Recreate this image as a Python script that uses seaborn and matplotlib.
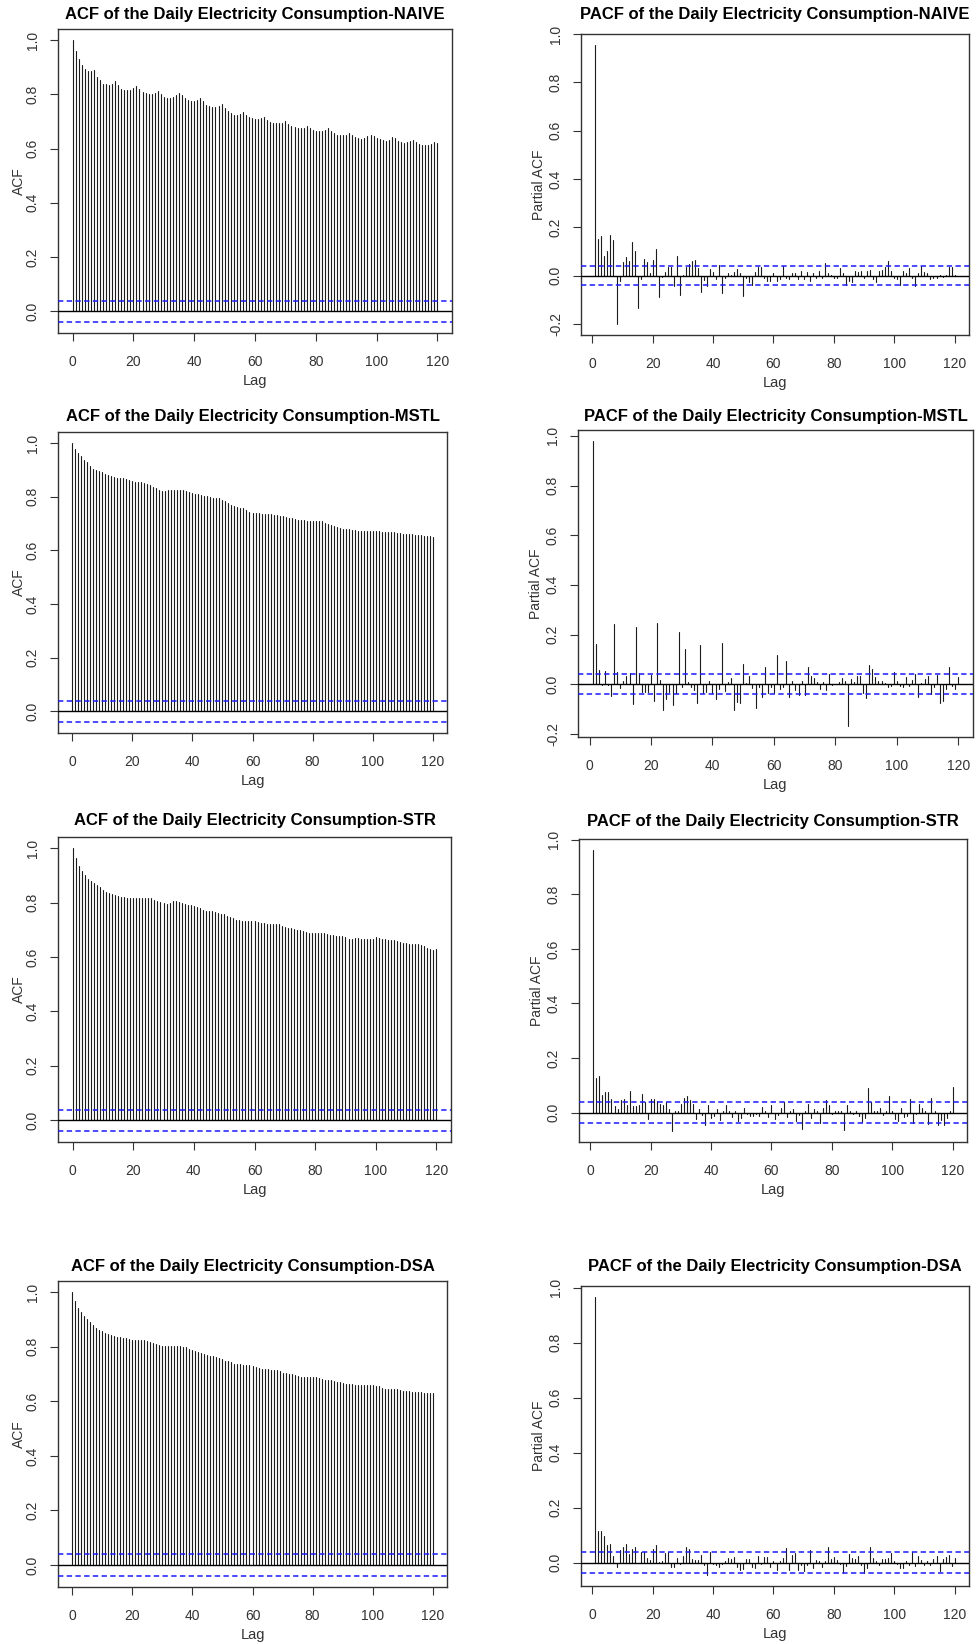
import numpy as np
import pandas as pd
import matplotlib
matplotlib.use("Agg")
import matplotlib.pyplot as plt
import seaborn as sns

# ---------------------------------------------------------------- data
ACF_NAIVE = [
    1.000, 0.959, 0.929, 0.910, 0.895, 0.887, 0.885, 0.889, 0.866, 0.852,
    0.840, 0.837, 0.836, 0.840, 0.849, 0.836, 0.821, 0.818, 0.816, 0.816,
    0.824, 0.833, 0.819, 0.808, 0.804, 0.803, 0.803, 0.804, 0.812, 0.800,
    0.792, 0.788, 0.787, 0.789, 0.797, 0.807, 0.797, 0.787, 0.780, 0.777,
    0.776, 0.778, 0.786, 0.775, 0.760, 0.756, 0.754, 0.754, 0.757, 0.764,
    0.751, 0.739, 0.730, 0.725, 0.725, 0.728, 0.734, 0.725, 0.717, 0.712,
    0.709, 0.709, 0.712, 0.717, 0.707, 0.698, 0.695, 0.693, 0.693, 0.696,
    0.702, 0.692, 0.682, 0.679, 0.675, 0.675, 0.677, 0.683, 0.677, 0.669,
    0.665, 0.665, 0.665, 0.670, 0.676, 0.666, 0.656, 0.651, 0.649, 0.649,
    0.651, 0.658, 0.651, 0.643, 0.638, 0.637, 0.639, 0.645, 0.651, 0.647,
    0.640, 0.637, 0.632, 0.629, 0.633, 0.643, 0.639, 0.629, 0.623, 0.622,
    0.623, 0.627, 0.632, 0.626, 0.618, 0.615, 0.612, 0.612, 0.618, 0.624,
    0.622,
]

ACF_MSTL = [
    1.000, 0.978, 0.965, 0.953, 0.938, 0.928, 0.916, 0.903, 0.901, 0.897,
    0.891, 0.886, 0.882, 0.876, 0.872, 0.869, 0.869, 0.869, 0.866, 0.861,
    0.859, 0.856, 0.855, 0.855, 0.853, 0.849, 0.844, 0.836, 0.831, 0.827,
    0.822, 0.820, 0.824, 0.827, 0.827, 0.827, 0.827, 0.824, 0.820, 0.818,
    0.815, 0.812, 0.809, 0.807, 0.804, 0.802, 0.799, 0.797, 0.796, 0.794,
    0.789, 0.783, 0.777, 0.770, 0.765, 0.761, 0.760, 0.757, 0.750, 0.742,
    0.740, 0.740, 0.739, 0.737, 0.737, 0.736, 0.735, 0.734, 0.732, 0.730,
    0.727, 0.725, 0.722, 0.720, 0.717, 0.715, 0.714, 0.713, 0.711, 0.710,
    0.709, 0.709, 0.709, 0.708, 0.703, 0.698, 0.694, 0.690, 0.686, 0.683,
    0.680, 0.679, 0.679, 0.678, 0.675, 0.674, 0.673, 0.673, 0.673, 0.673,
    0.673, 0.672, 0.672, 0.670, 0.670, 0.669, 0.669, 0.667, 0.664, 0.664,
    0.663, 0.663, 0.662, 0.660, 0.659, 0.658, 0.656, 0.654, 0.653, 0.652,
    0.649,
]

ACF_STR = [
    1.000, 0.964, 0.936, 0.918, 0.900, 0.888, 0.878, 0.871, 0.864, 0.856,
    0.848, 0.840, 0.835, 0.832, 0.829, 0.826, 0.822, 0.819, 0.818, 0.818,
    0.817, 0.816, 0.816, 0.816, 0.816, 0.816, 0.816, 0.811, 0.806, 0.801,
    0.797, 0.796, 0.800, 0.805, 0.805, 0.803, 0.800, 0.795, 0.792, 0.791,
    0.789, 0.784, 0.779, 0.774, 0.771, 0.770, 0.769, 0.767, 0.763, 0.760,
    0.757, 0.752, 0.748, 0.743, 0.738, 0.735, 0.733, 0.733, 0.733, 0.733,
    0.732, 0.730, 0.726, 0.724, 0.722, 0.722, 0.722, 0.722, 0.720, 0.714,
    0.709, 0.706, 0.705, 0.704, 0.701, 0.698, 0.694, 0.692, 0.690, 0.690,
    0.690, 0.690, 0.689, 0.687, 0.684, 0.682, 0.681, 0.679, 0.677, 0.676,
    0.672, 0.665, 0.667, 0.671, 0.670, 0.667, 0.666, 0.666, 0.666, 0.668,
    0.673, 0.671, 0.668, 0.666, 0.663, 0.662, 0.663, 0.660, 0.656, 0.652,
    0.650, 0.649, 0.647, 0.649, 0.647, 0.643, 0.639, 0.635, 0.630, 0.627,
    0.630,
]

ACF_DSA = [
    1.000, 0.969, 0.944, 0.927, 0.913, 0.902, 0.890, 0.880, 0.870, 0.863,
    0.857, 0.852, 0.848, 0.845, 0.841, 0.838, 0.836, 0.834, 0.831, 0.829,
    0.827, 0.826, 0.826, 0.825, 0.824, 0.821, 0.819, 0.816, 0.812, 0.807,
    0.804, 0.804, 0.804, 0.804, 0.804, 0.803, 0.802, 0.801, 0.798, 0.794,
    0.789, 0.785, 0.781, 0.777, 0.774, 0.770, 0.767, 0.766, 0.764, 0.760,
    0.755, 0.750, 0.747, 0.743, 0.739, 0.737, 0.736, 0.734, 0.733, 0.732,
    0.730, 0.726, 0.722, 0.720, 0.718, 0.718, 0.717, 0.716, 0.714, 0.710,
    0.706, 0.704, 0.701, 0.700, 0.698, 0.693, 0.689, 0.689, 0.689, 0.689,
    0.689, 0.688, 0.685, 0.682, 0.678, 0.677, 0.677, 0.676, 0.673, 0.671,
    0.667, 0.665, 0.665, 0.663, 0.662, 0.661, 0.660, 0.659, 0.659, 0.659,
    0.659, 0.657, 0.655, 0.651, 0.647, 0.646, 0.645, 0.645, 0.644, 0.641,
    0.639, 0.638, 0.638, 0.636, 0.635, 0.634, 0.633, 0.632, 0.630, 0.630,
    0.630,
]

# partial autocorrelations start at lag 1
PACF_NAIVE = [
    0.954, 0.152, 0.164, 0.083, 0.103, 0.168, 0.148, -0.199, -0.020, 0.055,
    0.079, 0.063, 0.139, 0.103, -0.135, -0.014, 0.070, 0.055, 0.010, 0.066,
    0.110, -0.087, -0.004, 0.014, 0.036, 0.036, -0.041, 0.083, -0.080, 0.005,
    0.036, 0.047, 0.059, 0.066, 0.030, -0.068, -0.017, -0.041, 0.026, 0.014,
    -0.014, 0.043, -0.070, -0.008, 0.010, 0.005, 0.014, 0.026, 0.010, -0.084,
    -0.011, -0.026, -0.039, 0.014, 0.036, 0.036, -0.011, -0.020, -0.020, 0.010,
    -0.020, -0.015, 0.041, -0.010, -0.015, 0.010, 0.012, -0.015, 0.020, -0.015,
    0.015, -0.020, 0.010, -0.010, 0.020, -0.010, 0.051, 0.010, 0.002, -0.010,
    -0.010, 0.030, 0.010, -0.040, -0.020, -0.025, 0.020, 0.015, 0.020, -0.010,
    0.020, 0.025, -0.015, -0.025, 0.020, 0.025, 0.035, 0.063, 0.020, -0.010,
    -0.015, -0.040, 0.020, 0.012, 0.030, -0.010, -0.042, 0.010, 0.040, 0.015,
    0.010, -0.015, -0.010, -0.010, 0.005, -0.005, 0.005, 0.035, 0.035, 0.005,
]

PACF_MSTL = [
    0.978, 0.161, 0.058, -0.005, 0.054, -0.005, -0.047, 0.241, 0.050, -0.016,
    0.013, 0.034, 0.044, -0.079, 0.229, 0.044, -0.031, -0.031, -0.030, 0.037,
    -0.067, 0.245, 0.017, -0.103, -0.058, -0.031, -0.084, -0.034, 0.209, -0.013,
    0.141, 0.008, -0.013, -0.023, -0.076, 0.157, -0.034, -0.031, 0.011, -0.036,
    -0.060, -0.020, 0.165, -0.027, 0.008, 0.024, -0.103, -0.070, -0.076, 0.080,
    0.004, 0.034, -0.016, -0.094, -0.013, -0.050, 0.071, -0.034, -0.013, -0.034,
    0.117, -0.020, -0.010, 0.092, -0.050, 0.013, -0.023, -0.044, 0.013, -0.044,
    0.068, 0.034, 0.024, 0.008, -0.020, 0.008, -0.025, 0.040, -0.005, 0.002,
    0.008, 0.024, 0.011, -0.167, 0.020, 0.008, 0.034, 0.034, -0.036, -0.054,
    0.076, 0.060, 0.027, 0.013, 0.013, 0.004, -0.013, -0.009, 0.048, 0.011,
    -0.009, -0.013, 0.027, -0.009, 0.017, 0.040, -0.050, 0.004, 0.021, 0.034,
    -0.040, -0.013, 0.037, -0.074, -0.067, -0.020, 0.068, -0.009, -0.020, 0.027,
]

PACF_STR = [
    0.962, 0.127, 0.135, 0.065, 0.076, 0.076, 0.048, 0.023, 0.013, 0.045,
    0.048, 0.028, 0.080, 0.023, 0.023, 0.027, 0.069, 0.037, -0.025, 0.048,
    0.048, 0.043, 0.033, 0.028, 0.039, 0.012, -0.067, 0.004, 0.006, 0.033,
    0.055, 0.059, 0.045, 0.033, -0.022, 0.012, -0.010, -0.044, 0.028, -0.020,
    -0.012, 0.012, -0.027, 0.007, 0.028, 0.007, -0.017, 0.007, -0.032, -0.020,
    0.017, -0.005, -0.012, -0.012, -0.006, -0.012, 0.022, 0.005, -0.015, 0.028,
    -0.022, -0.009, 0.015, 0.038, -0.017, 0.006, 0.012, -0.030, -0.009, -0.061,
    0.006, 0.032, -0.020, 0.012, 0.007, -0.039, 0.015, 0.045, 0.028, -0.005,
    0.004, 0.006, 0.006, -0.064, 0.028, 0.004, -0.005, 0.004, -0.012, -0.033,
    -0.021, 0.089, 0.038, 0.004, 0.006, 0.015, -0.010, 0.006, 0.060, 0.004,
    -0.022, -0.030, 0.015, -0.017, -0.011, 0.048, -0.039, -0.006, 0.032, 0.015,
    0.004, -0.042, 0.054, 0.006, -0.044, -0.027, -0.044, -0.020, 0.007, 0.094,
]

PACF_DSA = [
    0.966, 0.113, 0.113, 0.095, 0.062, 0.069, 0.023, -0.015, 0.046, 0.058,
    0.066, 0.032, 0.051, 0.058, -0.003, 0.040, 0.040, 0.017, 0.011, 0.049,
    0.062, 0.002, 0.007, 0.034, 0.040, -0.017, -0.017, 0.017, -0.005, 0.023,
    0.058, 0.051, 0.013, 0.010, 0.010, 0.029, -0.010, -0.045, 0.037, -0.007,
    -0.010, -0.017, -0.007, 0.005, 0.017, 0.012, 0.020, -0.015, -0.027, -0.024,
    0.012, 0.012, -0.017, -0.021, 0.023, -0.007, 0.020, 0.021, -0.015, 0.005,
    -0.029, 0.007, 0.017, 0.052, -0.029, 0.028, 0.033, -0.027, -0.009, -0.030,
    -0.009, 0.044, -0.021, 0.010, 0.005, -0.015, 0.005, 0.056, 0.012, 0.020,
    0.010, -0.005, -0.038, -0.011, 0.032, 0.017, 0.013, 0.024, -0.009, -0.038,
    -0.021, 0.056, 0.017, 0.007, -0.010, 0.013, 0.013, 0.017, 0.034, 0.005,
    -0.005, -0.021, -0.021, 0.005, -0.009, 0.040, -0.012, 0.024, 0.010, -0.010,
    0.005, -0.009, 0.012, 0.023, -0.030, 0.013, 0.020, 0.028, -0.012, 0.017,
]

METHODS = ["NAIVE", "MSTL", "STR", "DSA"]
CONF_BOUND = 0.039  # approx. 95% white-noise band
LAG_TICKS = [0, 20, 40, 60, 80, 100, 120]
CORR_TICKS = [-0.2, 0.0, 0.2, 0.4, 0.6, 0.8, 1.0]

# ---------------------------------------------------------------- style
sns.set_theme(style="white")
plt.rcParams["font.family"] = ["Liberation Sans", "DejaVu Sans"]
plt.rcParams["axes.unicode_minus"] = False

W, H = 978, 1644
fig = plt.figure(figsize=(W / 100, H / 100), dpi=100)
fig.patch.set_facecolor("white")

INK = "#333333"

# panel frames in pixels: (left, top, right, bottom), title centre y
ACF_FRAMES = [((58, 29, 452, 333), 15), ((58, 432, 447, 733), 416),
              ((58, 837, 451, 1142), 820), ((58, 1281, 447, 1587), 1266)]
PACF_FRAMES = [((581, 34, 969, 335), 15), ((578, 430, 973, 737), 416),
               ((579, 839, 967, 1142), 821), ((581, 1286, 969, 1586), 1266)]


def r_limits(vals, bound):
    lo = min(min(vals), -bound)
    hi = max(max(vals), bound)
    pad = 0.04 * (hi - lo)
    return lo - pad, hi + pad


def correlogram(frame, title_y, title, ylabel, lags, vals, ylab_off):
    (x0, y0, x1, y1) = frame
    ax = fig.add_axes([x0 / W, 1 - y1 / H, (x1 - x0) / W, (y1 - y0) / H])
    lags = np.asarray(lags)
    vals = np.asarray(vals, dtype=float)

    # each lag is one vertical stem from 0 to its coefficient
    stems = pd.DataFrame({
        "lag": np.repeat(lags, 2),
        "value": np.column_stack([np.zeros_like(vals), vals]).ravel(),
    })
    sns.lineplot(data=stems, x="lag", y="value", units="lag", estimator=None,
                 sort=False, color="#1c1c1c", linewidth=0.8, ax=ax,
                 legend=False, zorder=2)

    ax.axhline(0, color="black", linewidth=1.0, zorder=3)
    for b in (CONF_BOUND, -CONF_BOUND):
        ax.axhline(b, color="#1a1aff", linewidth=1.1,
                   linestyle=(0, (3.5, 2.2)), zorder=4)

    span = lags[-1] - lags[0]
    ax.set_xlim(lags[0] - 0.04 * span, lags[-1] + 0.04 * span)
    lo, hi = r_limits(vals, CONF_BOUND)
    ax.set_ylim(lo, hi)

    yt = [v for v in CORR_TICKS if lo <= v <= hi]
    ax.set_xticks(LAG_TICKS)
    ax.set_xticklabels([str(t) for t in LAG_TICKS])
    ax.set_yticks(yt)
    ax.set_yticklabels([f"{v:.1f}" for v in yt])

    ax.tick_params(axis="both", which="major", direction="out", length=6,
                   width=0.8, color=INK, labelcolor=INK, labelsize=10,
                   bottom=True, left=True)
    ax.tick_params(axis="x", pad=10)
    ax.tick_params(axis="y", pad=7, labelrotation=90)
    for lbl in ax.get_yticklabels():
        lbl.set_va("center")
        lbl.set_ha("right")

    for sp in ax.spines.values():
        sp.set_color(INK)
        sp.set_linewidth(1.0)
        sp.set_visible(True)

    bw, bh = x1 - x0, y1 - y0
    ax.set_xlabel("Lag", fontsize=10.5, color=INK)
    ax.xaxis.set_label_coords(0.5, -48 / bh)
    ax.xaxis.label.set_va("center")
    ax.set_ylabel(ylabel, fontsize=10, color=INK)
    ax.yaxis.set_label_coords(-ylab_off / bw, 0.5)
    ax.yaxis.label.set_va("center")

    fig.text((x0 + x1) / 2 / W, 1 - title_y / H, title, ha="center",
             va="center", fontsize=12, fontweight="bold", color="black")
    ax.grid(False)
    return ax


acf_sets = [ACF_NAIVE, ACF_MSTL, ACF_STR, ACF_DSA]
pacf_sets = [PACF_NAIVE, PACF_MSTL, PACF_STR, PACF_DSA]

for m, a_vals, p_vals, (af, aty), (pf, pty) in zip(
        METHODS, acf_sets, pacf_sets, ACF_FRAMES, PACF_FRAMES):
    correlogram(af, aty, f"ACF of the Daily Electricity Consumption-{m}",
                "ACF", np.arange(len(a_vals)), a_vals, 39)
    correlogram(pf, pty, f"PACF of the Daily Electricity Consumption-{m}",
                "Partial ACF", np.arange(1, len(p_vals) + 1), p_vals, 42)

fig.savefig("out.png", dpi=100, facecolor="white")
